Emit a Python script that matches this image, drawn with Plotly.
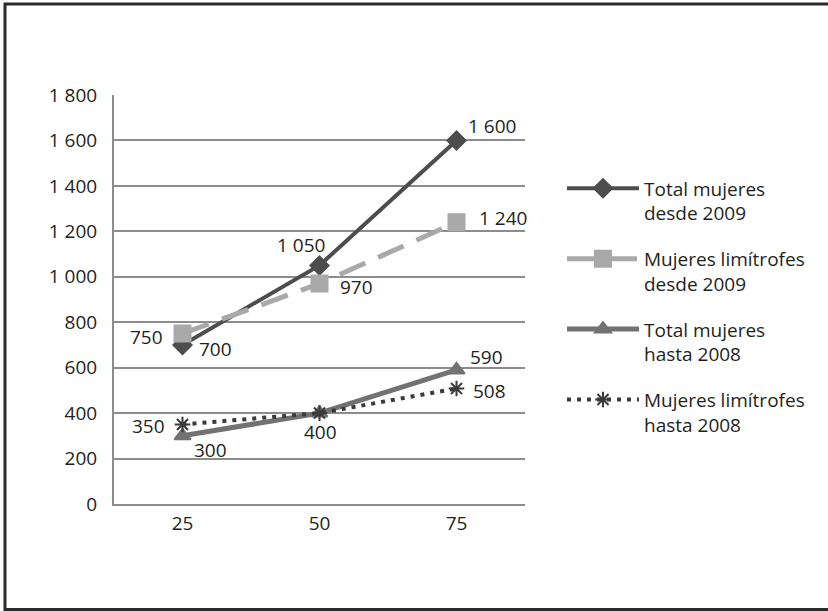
import plotly.graph_objects as go

# Category labels on the x axis
categorias = ["25", "50", "75"]

# Series values
total_desde_2009 = [700, 1050, 1600]
limitrofes_desde_2009 = [750, 970, 1240]
total_hasta_2008 = [300, 400, 590]
limitrofes_hasta_2008 = [350, 400, 508]

# Y axis ticks
y_ticks = [0, 200, 400, 600, 800, 1000, 1200, 1400, 1600, 1800]


def fmt(v):
    return f"{v:,}".replace(",", " ")


FONT = "Open Sans"
TXT = dict(family=FONT, size=19, color="#231f20")

fig = go.Figure()

series = [
    ("Total mujeres<br>desde 2009", total_desde_2009, "#4d4d4d", "solid", 4,
     "diamond", 14),
    ("Mujeres limítrofes<br>desde 2009", limitrofes_desde_2009, "#a9a9a9", "28px,14px", 5,
     "square", 16),
    ("Total mujeres<br>hasta 2008", total_hasta_2008, "#727272", "solid", 5,
     "triangle-up", 14),
    ("Mujeres limítrofes<br>hasta 2008", limitrofes_hasta_2008, "#3a3a3a", "4px,6px", 4,
     "asterisk-open", 13),
]
values = [s[1] for s in series]

for i, (name, vals, color, dash, lw, sym, ms) in enumerate(series):
    fig.add_trace(go.Scatter(
        x=categorias, y=vals, name=name, mode="lines+markers",
        line=dict(color=color, width=lw, dash=dash),
        marker=dict(symbol=sym, size=ms, color=color,
                    line=dict(color=color, width=2)),
        legendgroup=f"g{i}", cliponaxis=False,
    ))

# Value labels: (series index, point index, xanchor, xshift, yshift)
etiquetas = [
    (0, 0, "left", 14, -4),
    (0, 1, "center", -19, 20),
    (0, 2, "left", 9, 14),
    (1, 0, "right", -18, -3),
    (1, 1, "left", 18, -3),
    (1, 2, "left", 20, 4),
    (2, 0, "left", 9, -14),
    (2, 1, "center", 1, -19),
    (2, 2, "left", 11, 13),
    (3, 0, "right", -16, -2),
    (3, 2, "left", 14, -2),
]
annotations = []
for s, p, xa, dx, dy in etiquetas:
    annotations.append(dict(
        # category axis: position by category index
        x=p, y=values[s][p], xref="x", yref="y",
        text=fmt(values[s][p]), showarrow=False,
        xanchor=xa, yanchor="middle", xshift=dx, yshift=dy, font=TXT,
    ))

fig.update_layout(
    width=828, height=611,
    margin=dict(l=114, r=303, t=95, b=107),
    paper_bgcolor="white", plot_bgcolor="white",
    font=TXT,
    xaxis=dict(
        type="category", range=[-0.5, 2.5], showgrid=False,
        showline=True, linecolor="#8c8c8c", linewidth=2,
        ticks="", ticklabelstandoff=1, tickfont=TXT, fixedrange=True,
    ),
    yaxis=dict(
        range=[0, 1800], tickvals=y_ticks, ticktext=[fmt(v) for v in y_ticks],
        showgrid=True, gridcolor="#8c8c8c", gridwidth=2,
        showline=True, linecolor="#8c8c8c", linewidth=2,
        zeroline=False, ticks="", ticklabelstandoff=11, tickfont=TXT,
    ),
    legend=dict(
        x=1.09, y=0.818, xanchor="left", yanchor="top",
        valign="top", itemwidth=72, tracegroupgap=18,
        font=TXT, bgcolor="rgba(0,0,0,0)",
    ),
    annotations=annotations,
    shapes=[dict(
        type="rect", xref="paper", yref="paper",
        x0=(5 - 114) / 411, x1=(832 - 114) / 411,
        y0=(504 - 609.5) / 409, y1=(504 - 4) / 409,
        line=dict(color="#2b2b2b", width=3), fillcolor="rgba(0,0,0,0)",
        layer="below",
    )],
)

fig.write_html("out.html")
